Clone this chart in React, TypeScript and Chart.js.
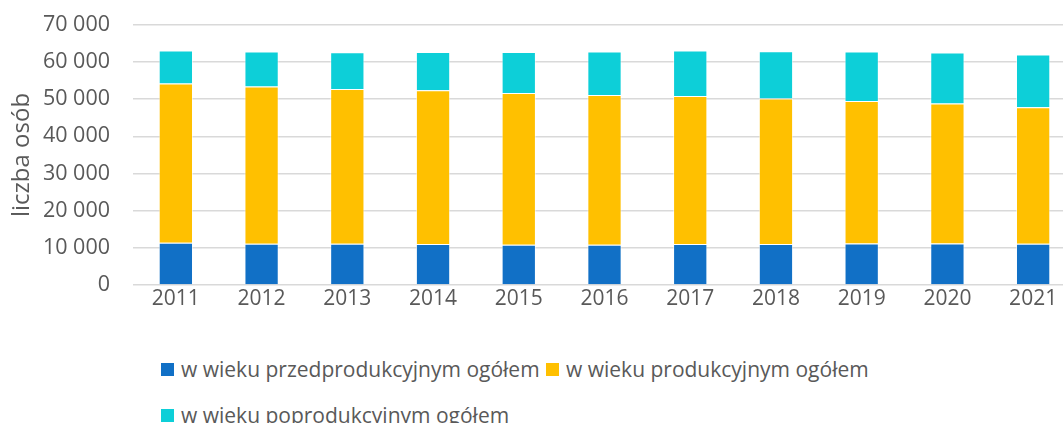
import React, { useEffect, useRef } from "react";
import { Chart, registerables } from "chart.js";

Chart.register(...registerables);

const categories = ["2011", "2012", "2013", "2014", "2015", "2016", "2017", "2018", "2019", "2020", "2021"];
const przedprodukcyjny = [11370, 11100, 11100, 11050, 10830, 10830, 11020, 11020, 11200, 11200, 11100];
const produkcyjny = [42850, 42310, 41670, 41370, 40870, 40330, 39870, 39170, 38340, 37640, 36750];
const poprodukcyjny = [8870, 9410, 9860, 10300, 11020, 11660, 12200, 12710, 13280, 13710, 14160];
const seriesLabels = [
  "w wieku przedprodukcyjnym ogółem",
  "w wieku produkcyjnym ogółem",
  "w wieku poprodukcyjnym ogółem",
];
const seriesColors = ["#1170C6", "#FFC000", "#0DCFD8"];
const yTitle = "liczba osób";

const FONT = "'Open Sans', sans-serif";
const TEXT = "#595959";

export default function App() {
  const ref = useRef<HTMLCanvasElement | null>(null);

  useEffect(() => {
    if (!ref.current) return;
    const values = [przedprodukcyjny, produkcyjny, poprodukcyjny];
    const chart = new Chart(ref.current, {
      type: "bar",
      data: {
        labels: categories,
        datasets: values.map((v, i) => ({
          label: seriesLabels[i],
          data: v,
          backgroundColor: seriesColors[i],
          borderColor: "rgba(255,255,255,0.55)",
          borderWidth: 1,
          barPercentage: 0.4,
          categoryPercentage: 1,
        })),
      },
      options: {
        responsive: false,
        animation: false,
        layout: { padding: { top: 13, left: 0, right: 0, bottom: 0 } },
        plugins: {
          legend: { display: false },
          tooltip: { enabled: false },
        },
        scales: {
          x: {
            stacked: true,
            grid: { display: false, drawTicks: false },
            border: { display: false },
            ticks: {
              color: TEXT,
              font: { family: FONT, size: 21 },
              padding: 1,
              maxRotation: 0,
              autoSkip: false,
            },
            afterFit: (s: any) => {
              s.height = 60;
            },
          },
          y: {
            stacked: true,
            min: 0,
            max: 70000,
            grid: { color: "#D9D9D9", lineWidth: 1.5, drawTicks: false },
            border: { display: false },
            ticks: {
              stepSize: 10000,
              color: TEXT,
              font: { family: FONT, size: 21.5 },
              padding: 23,
              callback: (v: any) => {
                const n = Number(v);
                return n === 0 ? "0" : String(n).replace(/\B(?=(\d{3})+(?!\d))/g, " ");
              },
            },
            title: {
              display: true,
              text: yTitle,
              color: TEXT,
              font: { family: FONT, size: 24 },
              padding: { top: 8, bottom: 0 },
            },
            afterFit: (s: any) => {
              s.width = 133;
            },
          },
        },
      },
    });
    return () => chart.destroy();
  }, []);

  const legendItem = (i: number, boxLeft: number, top: number) => (
    <div
      key={i}
      style={{
        position: "absolute",
        left: boxLeft,
        top: top,
        display: "flex",
        alignItems: "center",
        whiteSpace: "nowrap",
        height: 26,
      }}
    >
      <span
        style={{
          display: "inline-block",
          width: 13,
          height: 13,
          background: seriesColors[i],
          marginRight: 7,
        }}
      />
      <span style={{ fontFamily: FONT, fontSize: 21, color: TEXT, lineHeight: "26px" }}>
        {seriesLabels[i]}
      </span>
    </div>
  );

  return (
    <div
      style={{
        position: "fixed",
        left: 0,
        top: 0,
        width: 1063,
        height: 423,
        overflow: "hidden",
        background: "#fff",
      }}
    >
      <canvas
        ref={ref}
        width={1076}
        height={356}
        style={{ position: "absolute", left: 0, top: -11, width: 1076, height: 356 }}
      />
      {legendItem(0, 161, 356)}
      {legendItem(1, 546, 356)}
      {legendItem(2, 161, 402)}
    </div>
  );
}
